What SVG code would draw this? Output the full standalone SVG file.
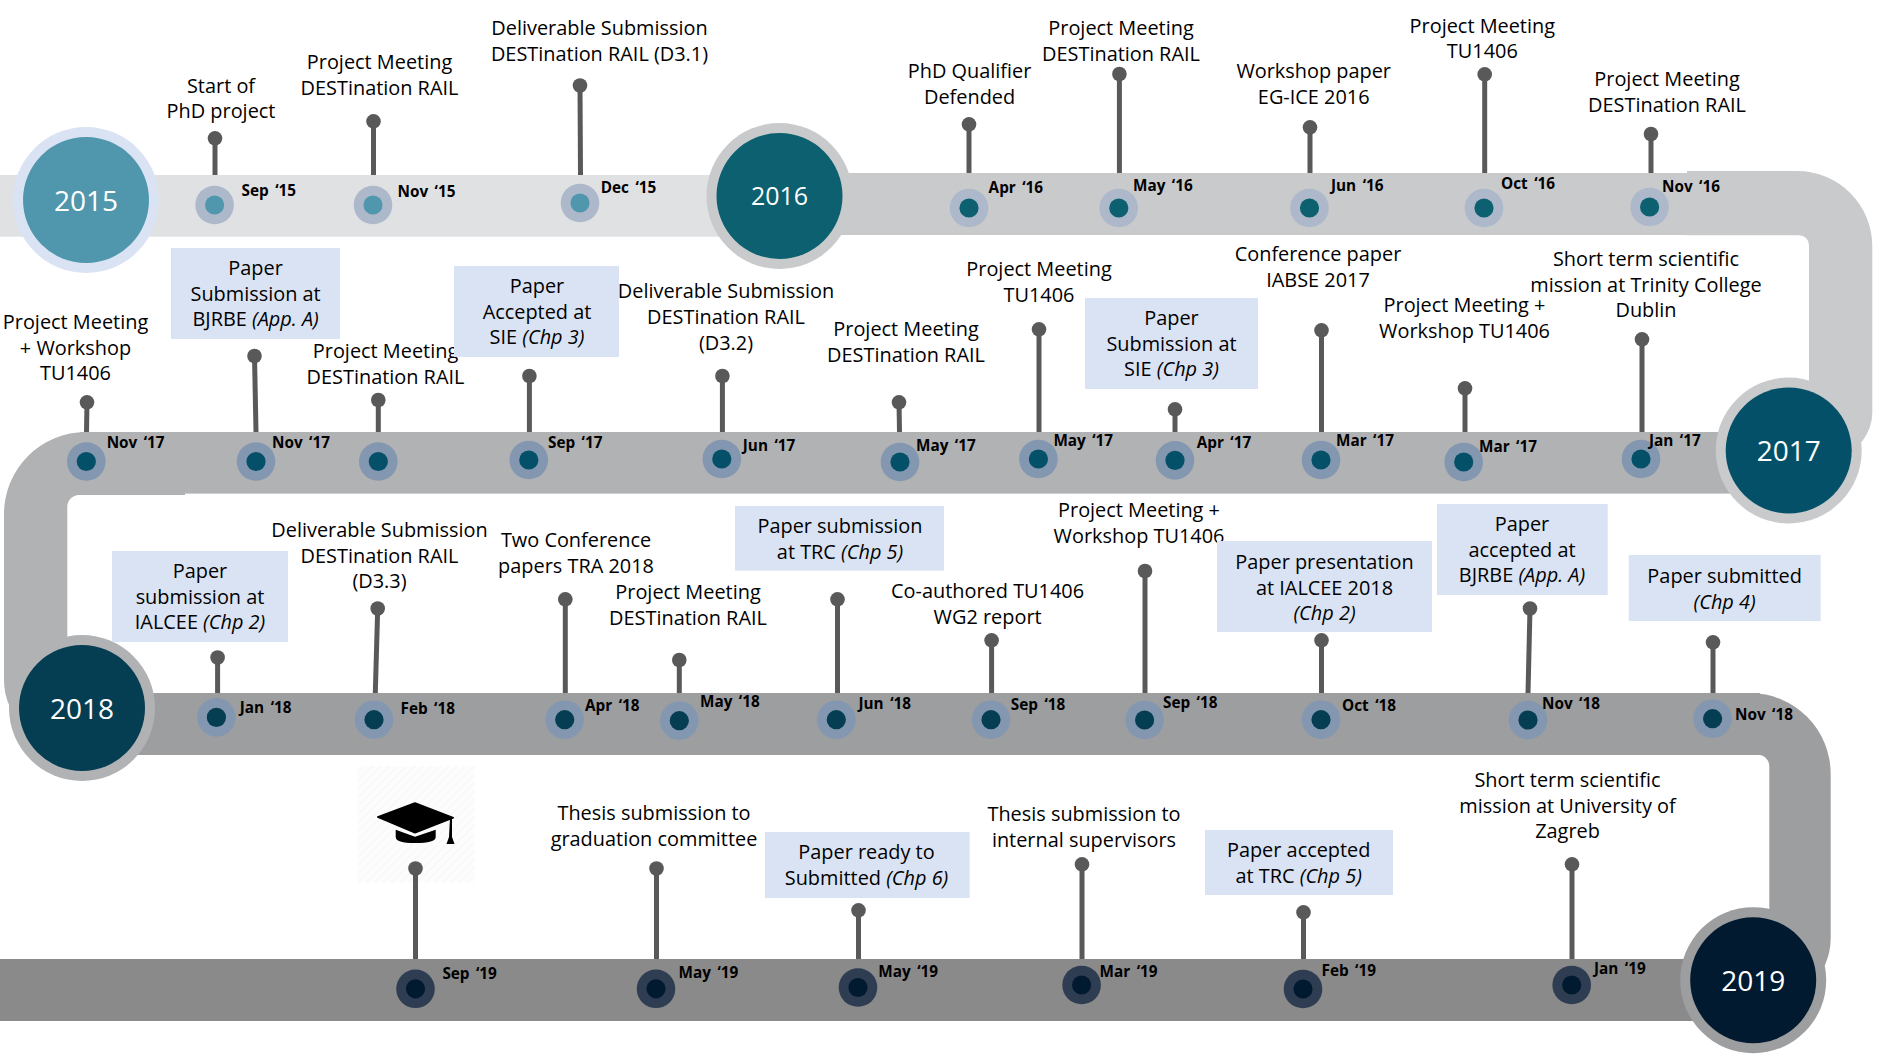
<svg xmlns="http://www.w3.org/2000/svg" width="1881" height="1055" viewBox="0 0 1881 1055">
<style>
text{font-family:"Open Sans","Noto Sans","Liberation Sans",sans-serif;fill:#000}
.t{font-size:19.9px;text-anchor:middle;transform:translateY(-.2px)}
.d{font-size:15.3px;font-weight:700;word-spacing:2.5px}
.y{font-size:28px;text-anchor:middle;fill:#fff}
.box{fill:#dae3f3}
.pin{stroke:#595959;stroke-width:5;fill:none;marker-start:url(#head)}
.o1{fill:#adb9ca}.i1{fill:#5097ae}.i2{fill:#0c6070}
.o3{fill:#8497b0}.i3{fill:#045068}.i4{fill:#053d52}
.o5{fill:#2f3d53}.i5{fill:#021a30}
.it{font-style:italic}
</style>
<defs>
<marker id="head" viewBox="-8 -8 16 16" markerUnits="userSpaceOnUse" markerWidth="16" markerHeight="16" orient="0"><circle r="7.3" fill="#595959"/></marker>
<pattern id="hatch" width="6" height="6" patternUnits="userSpaceOnUse" patternTransform="rotate(45)"><rect width="6" height="6" fill="#fdfdfd"/><rect width="2" height="6" fill="#f9f9f9"/></pattern>
</defs>
<rect width="1881" height="1055" fill="#fff"/>
<g id="bands">
<rect x="0" y="175" width="790" height="61.7" fill="#e0e1e3"/>
<rect x="780" y="173" width="910" height="62" fill="#c9cacc"/>
<path d="M1687 171H1797A75.300 75.300 0 0 1 1872.300 247V413Q1872.300 428 1861.700 442L1830 452H1809V245A10 10 0 0 0 1799 235.300H1687Z" fill="#c9cacc"/>
<rect x="80" y="432" width="1710" height="61.600" fill="#b1b2b4"/>
<path d="M185 432H86A82 82 0 0 0 4 514V680Q4 695 10 707L40 712H67.300V507A12 12 0 0 1 79 495H185Z" fill="#b1b2b4"/>
<rect x="80" y="693" width="1680" height="62" fill="#9d9ea0"/>
<path d="M1688 693H1750A81 81 0 0 1 1830.700 774V938Q1830.700 952 1825 965L1800 980H1769.300V767A12 12 0 0 0 1757 754.500H1688Z" fill="#9d9ea0"/>
<rect x="0" y="959" width="1755" height="62" fill="#8a8a8a"/>
</g>
<g id="connectors">
<line class="pin" x1="215" y1="138.300" x2="215" y2="175"/>
<line class="pin" x1="373.500" y1="121.400" x2="373.500" y2="175"/>
<line class="pin" x1="580" y1="85.500" x2="580.500" y2="175"/>
<line class="pin" x1="969" y1="124.400" x2="969" y2="173"/>
<line class="pin" x1="1119.400" y1="74" x2="1119.400" y2="173"/>
<line class="pin" x1="1310" y1="127.400" x2="1310" y2="173"/>
<line class="pin" x1="1484.700" y1="74.400" x2="1484.700" y2="173"/>
<line class="pin" x1="1651" y1="134" x2="1651" y2="173"/>
<line class="pin" x1="87" y1="402.300" x2="86.500" y2="432"/>
<line class="pin" x1="254.500" y1="356" x2="256" y2="432"/>
<line class="pin" x1="378.300" y1="400" x2="378.300" y2="432"/>
<line class="pin" x1="529.400" y1="376" x2="529.400" y2="432"/>
<line class="pin" x1="722.400" y1="376" x2="722.400" y2="432"/>
<line class="pin" x1="899" y1="402.300" x2="899.500" y2="432"/>
<line class="pin" x1="1039" y1="329.300" x2="1039" y2="432"/>
<line class="pin" x1="1175" y1="409.400" x2="1175" y2="432"/>
<line class="pin" x1="1321.500" y1="330.300" x2="1321.500" y2="432"/>
<line class="pin" x1="1465" y1="388.400" x2="1465" y2="432"/>
<line class="pin" x1="1642" y1="339.400" x2="1642" y2="432"/>
<line class="pin" x1="217.600" y1="657.500" x2="217.600" y2="693"/>
<line class="pin" x1="377.700" y1="608.500" x2="375.300" y2="693"/>
<line class="pin" x1="565.300" y1="599.400" x2="565.300" y2="693"/>
<line class="pin" x1="679.300" y1="660" x2="679.300" y2="693"/>
<line class="pin" x1="837.500" y1="599.400" x2="837.500" y2="693"/>
<line class="pin" x1="991.600" y1="640.300" x2="991.600" y2="693"/>
<line class="pin" x1="1145" y1="571" x2="1145" y2="693"/>
<line class="pin" x1="1321.500" y1="640.300" x2="1321.500" y2="693"/>
<line class="pin" x1="1530" y1="608.500" x2="1528" y2="693"/>
<line class="pin" x1="1713" y1="642.300" x2="1713" y2="693"/>
<line class="pin" x1="1572" y1="864.400" x2="1572" y2="959"/>
<line class="pin" x1="1303.500" y1="912.400" x2="1303.500" y2="959"/>
<line class="pin" x1="1082" y1="864.400" x2="1082" y2="959"/>
<line class="pin" x1="858.500" y1="910.400" x2="858.500" y2="959"/>
<line class="pin" x1="656.500" y1="868.500" x2="656.500" y2="959"/>
</g>
<g id="year-2015"><circle cx="86" cy="200" r="73" fill="#dae3f3"/><circle cx="86" cy="200" r="63" fill="#5097ae"/><text class="y" x="86" y="210.500">2015</text></g>
<g id="year-2016"><circle cx="779.500" cy="196" r="73" fill="#c9cacc"/><circle cx="779.500" cy="196" r="63" fill="#0c6070"/><text class="y" x="779.500" y="205" style="font-size:25px">2016</text></g>
<g id="year-2017"><circle cx="1788.700" cy="450.500" r="73" fill="#c9cacc"/><circle cx="1788.700" cy="450.500" r="63" fill="#045068"/><text class="y" x="1788.700" y="461">2017</text></g>
<g id="year-2018"><circle cx="82" cy="708" r="73" fill="#b1b2b4"/><circle cx="82" cy="708" r="63" fill="#053d52"/><text class="y" x="82" y="718.500">2018</text></g>
<g id="year-2019"><circle cx="1753.200" cy="980.200" r="73" fill="#9d9ea0"/><circle cx="1753.200" cy="980.200" r="63" fill="#021a30"/><text class="y" x="1753.200" y="991">2019</text></g>

<g id="m-sep15"><circle class="o1" cx="214.600" cy="205" r="19.300"/><circle class="i1" cx="214.600" cy="205" r="9.600"/><text class="d" x="241.600" y="196">Sep ‘15</text><text class="t" x="221" y="93">Start of</text><text class="t" x="221" y="118.500">PhD project</text></g>
<g id="m-nov15"><circle class="o1" cx="373" cy="205" r="19.300"/><circle class="i1" cx="373" cy="205" r="9.600"/><text class="d" x="397.500" y="197">Nov ‘15</text><text class="t" x="379.500" y="69">Project Meeting</text><text class="t" x="379.500" y="95.300">DESTination RAIL</text></g>
<g id="m-dec15"><circle class="o1" cx="580" cy="203" r="19.300"/><circle class="i1" cx="580" cy="203" r="9.600"/><text class="d" x="600.700" y="193">Dec ‘15</text><text class="t" x="599.500" y="35.500">Deliverable Submission</text><text class="t" x="599.500" y="61.200">DESTination RAIL (D3.1)</text></g>
<g id="m-apr16"><circle class="o1" cx="969" cy="208" r="19.300"/><circle class="i2" cx="969" cy="208" r="9.600"/><text class="d" x="988.600" y="193">Apr ‘16</text><text class="t" x="969.600" y="78.400">PhD Qualifier</text><text class="t" x="969.600" y="104">Defended</text></g>
<g id="m-may16"><circle class="o1" cx="1118.800" cy="208" r="19.300"/><circle class="i2" cx="1118.800" cy="208" r="9.600"/><text class="d" x="1133" y="191">May ‘16</text><text class="t" x="1121" y="35.500">Project Meeting</text><text class="t" x="1121" y="61.200">DESTination RAIL</text></g>
<g id="m-jun16"><circle class="o1" cx="1309.500" cy="208" r="19.300"/><circle class="i2" cx="1309.500" cy="208" r="9.600"/><text class="d" x="1331" y="191">Jun ‘16</text><text class="t" x="1313.700" y="78.400">Workshop paper</text><text class="t" x="1313.700" y="104">EG-ICE 2016</text></g>
<g id="m-oct16"><circle class="o1" cx="1484" cy="208" r="19.300"/><circle class="i2" cx="1484" cy="208" r="9.600"/><text class="d" x="1501" y="189.300">Oct ‘16</text><text class="t" x="1482.300" y="32.800">Project Meeting</text><text class="t" x="1482.300" y="58">TU1406</text></g>
<g id="m-nov16"><circle class="o1" cx="1649.600" cy="207" r="19.300"/><circle class="i2" cx="1649.600" cy="207" r="9.600"/><text class="d" x="1662" y="192">Nov ‘16</text><text class="t" x="1667" y="86.200">Project Meeting</text><text class="t" x="1667" y="112">DESTination RAIL</text></g>

<g id="m-jan17"><circle class="o3" cx="1641" cy="459" r="19.300"/><circle class="i3" cx="1641" cy="459" r="9.600"/><text class="d" x="1649" y="446">Jan ‘17</text><text class="t" x="1646" y="266.400">Short term scientific</text><text class="t" x="1646" y="292">mission at Trinity College</text><text class="t" x="1646" y="317">Dublin</text></g>
<g id="m-mar17b"><circle class="o3" cx="1463.700" cy="462" r="19.300"/><circle class="i3" cx="1463.700" cy="462" r="9.600"/><text class="d" x="1479" y="452.300">Mar ‘17</text><text class="t" x="1464.500" y="312.700">Project Meeting +</text><text class="t" x="1464.500" y="338.400">Workshop TU1406</text></g>
<g id="m-mar17a"><circle class="o3" cx="1321" cy="460" r="19.300"/><circle class="i3" cx="1321" cy="460" r="9.600"/><text class="d" x="1336" y="446">Mar ‘17</text><text class="t" x="1318" y="261.300">Conference paper</text><text class="t" x="1318" y="287.400">IABSE 2017</text></g>
<g id="m-apr17"><circle class="o3" cx="1175" cy="460.400" r="19.300"/><circle class="i3" cx="1175" cy="460.400" r="9.600"/><text class="d" x="1196.700" y="448">Apr ‘17</text><rect class="box" x="1085" y="298" width="173" height="91"/><text class="t" x="1171.500" y="325">Paper</text><text class="t" x="1171.500" y="351">Submission at</text><text class="t" x="1171.500" y="376">SIE <tspan class="it">(Chp 3)</tspan></text></g>
<g id="m-may17b"><circle class="o3" cx="1038.400" cy="459" r="19.300"/><circle class="i3" cx="1038.400" cy="459" r="9.600"/><text class="d" x="1053.400" y="446">May ‘17</text><text class="t" x="1039" y="276.500">Project Meeting</text><text class="t" x="1039" y="302">TU1406</text></g>
<g id="m-may17a"><circle class="o3" cx="900" cy="462" r="19.300"/><circle class="i3" cx="900" cy="462" r="9.600"/><text class="d" x="916" y="451.300">May ‘17</text><text class="t" x="906" y="336.400">Project Meeting</text><text class="t" x="906" y="362">DESTination RAIL</text></g>
<g id="m-jun17"><circle class="o3" cx="721.800" cy="459" r="19.300"/><circle class="i3" cx="721.800" cy="459" r="9.600"/><text class="d" x="742.800" y="451.300">Jun ‘17</text><text class="t" x="726" y="298">Deliverable Submission</text><text class="t" x="726" y="324.500">DESTination RAIL</text><text class="t" x="726" y="350">(D3.2)</text></g>
<g id="m-sep17"><circle class="o3" cx="528.800" cy="460" r="19.300"/><circle class="i3" cx="528.800" cy="460" r="9.600"/><text class="d" x="548" y="448">Sep ‘17</text><text class="t" x="385.500" y="358.300">Project Meeting</text><text class="t" x="385.500" y="384">DESTination RAIL</text><rect class="box" x="454" y="266" width="165" height="91"/><text class="t" x="537" y="293">Paper</text><text class="t" x="537" y="319.500">Accepted at</text><text class="t" x="537" y="344">SIE <tspan class="it">(Chp 3)</tspan></text></g>
<g id="m-nov17c"><circle class="o3" cx="378.300" cy="461.500" r="19.300"/><circle class="i3" cx="378.300" cy="461.500" r="9.600"/></g>
<g id="m-nov17b"><circle class="o3" cx="256" cy="461.500" r="19.300"/><circle class="i3" cx="256" cy="461.500" r="9.600"/><text class="d" x="272" y="448">Nov ‘17</text><rect class="box" x="171" y="248" width="169" height="91"/><text class="t" x="255.600" y="275">Paper</text><text class="t" x="255.600" y="301">Submission at</text><text class="t" x="255.600" y="326">BJRBE <tspan class="it">(App. A)</tspan></text></g>
<g id="m-nov17a"><circle class="o3" cx="86.300" cy="461.500" r="19.300"/><circle class="i3" cx="86.300" cy="461.500" r="9.600"/><text class="d" x="106.700" y="448">Nov ‘17</text><text class="t" x="75.500" y="329.300">Project Meeting</text><text class="t" x="75.500" y="355">+ Workshop</text><text class="t" x="75.500" y="380.300">TU1406</text></g>

<g id="m-jan18"><circle class="o3" cx="216.400" cy="717.400" r="19.300"/><circle class="i4" cx="216.400" cy="717.400" r="9.600"/><text class="d" x="239.800" y="713">Jan ‘18</text><rect class="box" x="112" y="551" width="176" height="91"/><text class="t" x="200" y="578.400">Paper</text><text class="t" x="200" y="604">submission at</text><text class="t" x="200" y="629">IALCEE <tspan class="it">(Chp 2)</tspan></text></g>
<g id="m-feb18"><circle class="o3" cx="374" cy="719.700" r="19.300"/><circle class="i4" cx="374" cy="719.700" r="9.600"/><text class="d" x="400.500" y="713.600">Feb ‘18</text><text class="t" x="379.500" y="537.500">Deliverable Submission</text><text class="t" x="379.500" y="563">DESTination RAIL</text><text class="t" x="379.500" y="588">(D3.3)</text></g>
<g id="m-apr18"><circle class="o3" cx="564.700" cy="719.700" r="19.300"/><circle class="i4" cx="564.700" cy="719.700" r="9.600"/><text class="d" x="585" y="711.300">Apr ‘18</text><text class="t" x="576" y="547.300">Two Conference</text><text class="t" x="576" y="573">papers TRA 2018</text></g>
<g id="m-may18"><circle class="o3" cx="679.300" cy="720.700" r="19.300"/><circle class="i4" cx="679.300" cy="720.700" r="9.600"/><text class="d" x="700" y="707">May ‘18</text><text class="t" x="688" y="599.400">Project Meeting</text><text class="t" x="688" y="625">DESTination RAIL</text></g>
<g id="m-jun18"><circle class="o3" cx="836.300" cy="719.700" r="19.300"/><circle class="i4" cx="836.300" cy="719.700" r="9.600"/><text class="d" x="858.500" y="709">Jun ‘18</text><rect class="box" x="735" y="506" width="209" height="64.600"/><text class="t" x="840" y="533.500">Paper submission</text><text class="t" x="840" y="559">at TRC <tspan class="it">(Chp 5)</tspan></text></g>
<g id="m-sep18a"><circle class="o3" cx="991" cy="719.700" r="19.300"/><circle class="i4" cx="991" cy="719.700" r="9.600"/><text class="d" x="1010.800" y="710">Sep ‘18</text><text class="t" x="987.600" y="598">Co-authored TU1406</text><text class="t" x="987.600" y="624.400">WG2 report</text></g>
<g id="m-sep18b"><circle class="o3" cx="1144.600" cy="720" r="19.300"/><circle class="i4" cx="1144.600" cy="720" r="9.600"/><text class="d" x="1163" y="708">Sep ‘18</text><text class="t" x="1139" y="517.600">Project Meeting +</text><text class="t" x="1139" y="543">Workshop TU1406</text></g>
<g id="m-oct18"><circle class="o3" cx="1321" cy="719.700" r="19.300"/><circle class="i4" cx="1321" cy="719.700" r="9.600"/><text class="d" x="1342" y="711">Oct ‘18</text><rect class="box" x="1217" y="541" width="215" height="91"/><text class="t" x="1324.500" y="569">Paper presentation</text><text class="t" x="1324.500" y="595">at IALCEE 2018</text><text class="t it" x="1324.500" y="620">(Chp 2)</text></g>
<g id="m-nov18a"><circle class="o3" cx="1528" cy="720" r="19.300"/><circle class="i4" cx="1528" cy="720" r="9.600"/><text class="d" x="1542" y="709">Nov ‘18</text><rect class="box" x="1437" y="504" width="170.700" height="91"/><text class="t" x="1522" y="531.500">Paper</text><text class="t" x="1522" y="557">accepted at</text><text class="t" x="1522" y="582">BJRBE <tspan class="it">(App. A)</tspan></text></g>
<g id="m-nov18b"><circle class="o3" cx="1712.600" cy="718.700" r="19.300"/><circle class="i4" cx="1712.600" cy="718.700" r="9.600"/><text class="d" x="1735" y="720">Nov ‘18</text><rect class="box" x="1628.700" y="555" width="191.900" height="66"/><text class="t" x="1724.600" y="583">Paper submitted</text><text class="t it" x="1724.600" y="609">(Chp 4)</text></g>

<g id="m-sep19">
<rect x="358" y="766" width="117" height="117" fill="url(#hatch)"/>
<path d="M377.700 817 415 803 453.300 817.700 415 832.700Z" fill="#000" stroke="#000" stroke-width="1.500" stroke-linejoin="round"/>
<path d="M395.700 829.700 415 836.700 435.700 829.700V837Q435.700 843 415 843Q395.700 843 395.700 837Z" fill="#000"/>
<path d="M450 818h2v19l2.500 7h-8l2.500-7z" fill="#000"/>
<line class="pin" x1="415.500" y1="868.500" x2="415.500" y2="959"/>
<circle class="o5" cx="415.500" cy="988.800" r="19.300"/><circle class="i5" cx="415.500" cy="988.800" r="9.600"/><text class="d" x="442.400" y="979">Sep ‘19</text></g>
<g id="m-may19a"><circle class="o5" cx="656" cy="988.800" r="19.300"/><circle class="i5" cx="656" cy="988.800" r="9.600"/><text class="d" x="678.600" y="978">May ‘19</text><text class="t" x="654" y="820">Thesis submission to</text><text class="t" x="654" y="846.500">graduation committee</text></g>
<g id="m-may19b"><circle class="o5" cx="858" cy="987.500" r="19.300"/><circle class="i5" cx="858" cy="987.500" r="9.600"/><text class="d" x="878.300" y="977">May ‘19</text><rect class="box" x="765" y="832" width="204.600" height="66"/><text class="t" x="866.500" y="859">Paper ready to</text><text class="t" x="866.500" y="885">Submitted <tspan class="it">(Chp 6)</tspan></text></g>
<g id="m-mar19"><circle class="o5" cx="1081.600" cy="985" r="19.300"/><circle class="i5" cx="1081.600" cy="985" r="9.600"/><text class="d" x="1099.600" y="977">Mar ‘19</text><text class="t" x="1084" y="821">Thesis submission to</text><text class="t" x="1084" y="847">internal supervisors</text></g>
<g id="m-feb19"><circle class="o5" cx="1303" cy="989" r="19.300"/><circle class="i5" cx="1303" cy="989" r="9.600"/><text class="d" x="1321.500" y="976">Feb ‘19</text><rect class="box" x="1205" y="830" width="188" height="65"/><text class="t" x="1298.700" y="857">Paper accepted</text><text class="t" x="1298.700" y="883">at TRC <tspan class="it">(Chp 5)</tspan></text></g>
<g id="m-jan19"><circle class="o5" cx="1571.700" cy="985" r="19.300"/><circle class="i5" cx="1571.700" cy="985" r="9.600"/><text class="d" x="1594" y="974">Jan ‘19</text><text class="t" x="1567.500" y="787">Short term scientific</text><text class="t" x="1567.500" y="813">mission at University of</text><text class="t" x="1567.500" y="838.400">Zagreb</text></g>
</svg>
